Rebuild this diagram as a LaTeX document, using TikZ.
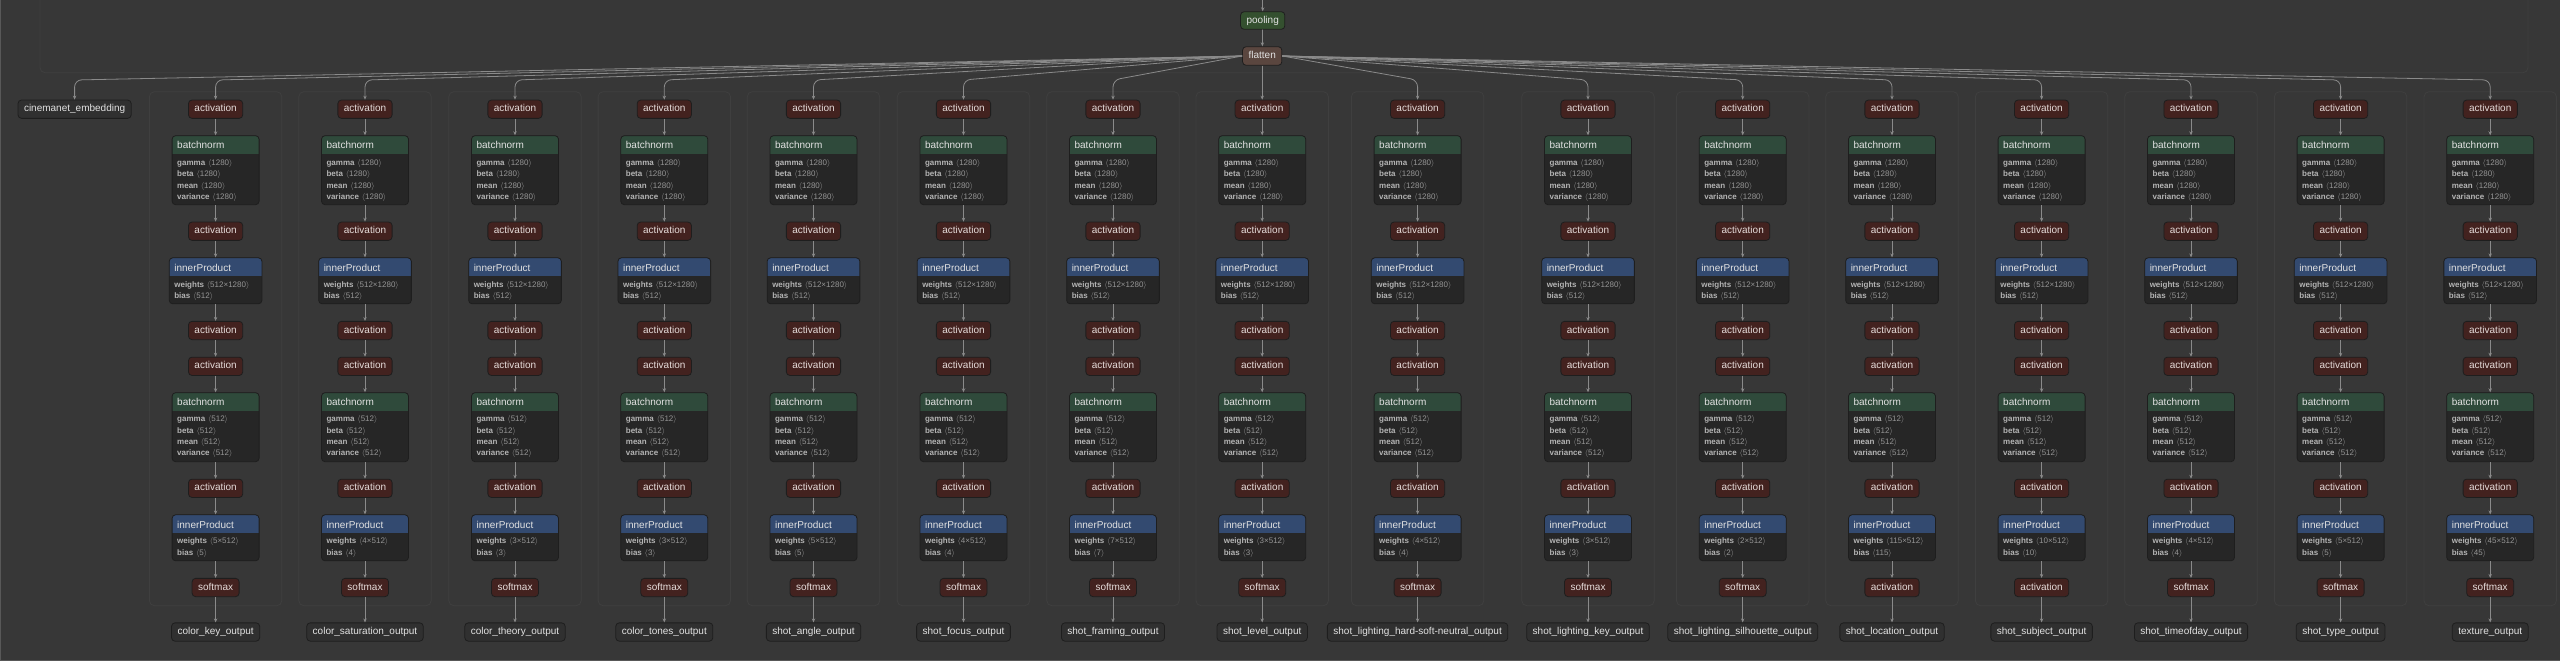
\documentclass[tikz,border=0pt]{standalone}
\usepackage{fontspec}
\setmainfont{Liberation Sans}
\usetikzlibrary{calc,arrows.meta}
\definecolor{bgc}{HTML}{373737}
\definecolor{clusc}{HTML}{3F3F3F}
\definecolor{nodeb}{HTML}{1E1E1E}
\definecolor{actc}{HTML}{43221F}
\definecolor{bnc}{HTML}{2F4A3B}
\definecolor{ipc}{HTML}{334A70}
\definecolor{poolc}{HTML}{34502F}
\definecolor{flatc}{HTML}{5A463F}
\definecolor{bodyc}{HTML}{262626}
\definecolor{ioc}{HTML}{303030}
\definecolor{txtc}{HTML}{E2E2E2}
\definecolor{acttxt}{HTML}{E6DCDA}
\definecolor{attrc}{HTML}{B4B4B4}
\definecolor{valc}{HTML}{959595}
\definecolor{connc}{HTML}{8A8A8A}
\definecolor{framec}{HTML}{585858}
\newcommand\an[1]{\textbf{#1}}
\newcommand\av[1]{\hspace{0.35em}\textcolor{valc}{$\langle$#1$\rangle$}}
\tikzset{
  conn/.style={draw=connc, line width=0.8pt, -{Stealth[length=4pt,width=3.4pt]}},
  nodebase/.style={draw=nodeb, line width=0.8pt, rounded corners=3.5pt, inner sep=0pt,
    font=\fontsize{10}{12}\selectfont},
  small/.style={nodebase, minimum height=18.3pt, inner xsep=6pt, text height=7.3pt, text depth=2.2pt},
  act/.style={small, fill=actc, text=acttxt},
  io/.style={small, fill=ioc, text=txtc},
  poolbox/.style={small, fill=poolc, text=txtc, minimum height=17.6pt},
  flatbox/.style={small, fill=flatc, text=txtc, minimum height=18.6pt},
  bnbox/.style={nodebase, fill=bodyc, minimum width=87pt, minimum height=69pt,
    path picture={\fill[bnc, sharp corners] (path picture bounding box.north west) rectangle ([yshift=-18.5pt]path picture bounding box.north east);}},
  ipbox/.style={nodebase, fill=bodyc, minimum width=#1, minimum height=46pt,
    path picture={\fill[ipc, sharp corners] (path picture bounding box.north west) rectangle ([yshift=-18.5pt]path picture bounding box.north east);}},
  hdr/.style={anchor=base west, inner sep=0pt, text=txtc, font=\fontsize{10}{12}\selectfont},
  attr/.style={anchor=base west, inner sep=0pt, text=attrc, font=\fontsize{8}{10}\selectfont},
  clusbox/.style={draw=clusc, line width=0.8pt, rounded corners=5pt},
}
\newcommand\mkcol[5]{%
  \draw[clusbox] ({#2-66.2},91.7) rectangle ({#2+66.2},605.7);
  \node[act] (#1-a1) at (#2,109.2) {activation};
  \node[bnbox] (#1-bn1) at (#2,170.2) {};
  \node[hdr] (#1-bn1h) at ($(#1-bn1.north west)+(5.3,13.6)$) {batchnorm};
  \node[attr] (#1-bn1g) at ($(#1-bn1.north west)+(5.3,30.2)$) {\an{gamma}\av{1280}};
  \node[attr] (#1-bn1b) at ($(#1-bn1.north west)+(5.3,41.5)$) {\an{beta}\av{1280}};
  \node[attr] (#1-bn1m) at ($(#1-bn1.north west)+(5.3,52.8)$) {\an{mean}\av{1280}};
  \node[attr] (#1-bn1v) at ($(#1-bn1.north west)+(5.3,64.3)$) {\an{variance}\av{1280}};
  \node[act] (#1-a2) at (#2,231.2) {activation};
  \node[ipbox=92.7pt] (#1-ip1) at (#2,280.8) {};
  \node[hdr] (#1-ip1h) at ($(#1-ip1.north west)+(5.3,13.6)$) {innerProduct};
  \node[attr] (#1-ip1w) at ($(#1-ip1.north west)+(5.3,30)$) {\an{weights}\av{512×1280}};
  \node[attr] (#1-ip1b) at ($(#1-ip1.north west)+(5.3,41.3)$) {\an{bias}\av{512}};
  \node[act] (#1-a3) at (#2,330.5) {activation};
  \node[act] (#1-a4) at (#2,366.3) {activation};
  \node[bnbox] (#1-bn2) at (#2,427.2) {};
  \node[hdr] (#1-bn2h) at ($(#1-bn2.north west)+(5.3,13.6)$) {batchnorm};
  \node[attr] (#1-bn2g) at ($(#1-bn2.north west)+(5.3,29.6)$) {\an{gamma}\av{512}};
  \node[attr] (#1-bn2b) at ($(#1-bn2.north west)+(5.3,41.2)$) {\an{beta}\av{512}};
  \node[attr] (#1-bn2m) at ($(#1-bn2.north west)+(5.3,52.5)$) {\an{mean}\av{512}};
  \node[attr] (#1-bn2v) at ($(#1-bn2.north west)+(5.3,63.6)$) {\an{variance}\av{512}};
  \node[act] (#1-a5) at (#2,488.3) {activation};
  \node[ipbox=87pt] (#1-ip2) at (#2,537.8) {};
  \node[hdr] (#1-ip2h) at ($(#1-ip2.north west)+(5.3,13.6)$) {innerProduct};
  \node[attr] (#1-ip2w) at ($(#1-ip2.north west)+(5.3,29.4)$) {\an{weights}\av{#3×512}};
  \node[attr] (#1-ip2b) at ($(#1-ip2.north west)+(5.3,41)$) {\an{bias}\av{#3}};
  \node[act] (#1-last) at (#2,587.5) {#4};
  \node[io] (#1-out) at (#2,632) {#5};
  \draw[conn] (#1-a1) -- (#1-bn1);
  \draw[conn] (#1-bn1) -- (#1-a2);
  \draw[conn] (#1-a2) -- (#1-ip1);
  \draw[conn] (#1-ip1) -- (#1-a3);
  \draw[conn] (#1-a3) -- (#1-a4);
  \draw[conn] (#1-a4) -- (#1-bn2);
  \draw[conn] (#1-bn2) -- (#1-a5);
  \draw[conn] (#1-a5) -- (#1-ip2);
  \draw[conn] (#1-ip2) -- (#1-last);
  \draw[conn] (#1-last) -- (#1-out);
}
\begin{document}
\begin{tikzpicture}[x=1pt,y=-1pt]
\useasboundingbox (0,0) rectangle (2560,661);
\fill[bgc] (0,0) rectangle (2560,661);
\draw[framec, line width=1pt] (0.5,0) -- (0.5,660) -- (2560,660);
\draw[clusbox] (40,-10) rectangle (2528,72.7);
\coordinate (intop) at (1262.7,0);
\node[poolbox] (pooling) at (1262.7,20.5) {pooling};
\node[flatbox] (flatten) at (1262.2,56) {flatten};
\draw[conn] (intop) -- (pooling);
\draw[conn] (pooling) -- (flatten);
\node[io] (cin) at (74.6,109.2) {cinemanet\_embedding};
\mkcol{c1}{215.6}{5}{softmax}{color\_key\_output}
\mkcol{c2}{365}{4}{softmax}{color\_saturation\_output}
\mkcol{c3}{515}{3}{softmax}{color\_theory\_output}
\mkcol{c4}{664.3}{3}{softmax}{color\_tones\_output}
\mkcol{c5}{813.5}{5}{softmax}{shot\_angle\_output}
\mkcol{c6}{963.5}{4}{softmax}{shot\_focus\_output}
\mkcol{c7}{1113}{7}{softmax}{shot\_framing\_output}
\mkcol{c8}{1262.2}{3}{softmax}{shot\_level\_output}
\mkcol{c9}{1417.6}{4}{softmax}{shot\_lighting\_hard-soft-neutral\_output}
\mkcol{c10}{1588}{3}{softmax}{shot\_lighting\_key\_output}
\mkcol{c11}{1742.7}{2}{softmax}{shot\_lighting\_silhouette\_output}
\mkcol{c12}{1892}{115}{activation}{shot\_location\_output}
\mkcol{c13}{2041.6}{10}{activation}{shot\_subject\_output}
\mkcol{c14}{2191}{4}{softmax}{shot\_timeofday\_output}
\mkcol{c15}{2340.6}{5}{softmax}{shot\_type\_output}
\mkcol{c16}{2490.2}{45}{softmax}{texture\_output}
\draw[conn, rounded corners=7pt] (flatten.west) -- (74.6,80) -- (cin.north);
\foreach \i/\x/\s in {c1/215.6/west, c2/365/west, c3/515/west, c4/664.3/west, c5/813.5/west, c6/963.5/west, c7/1113/west, c9/1417.6/east, c10/1588/east, c11/1742.7/east, c12/1892/east, c13/2041.6/east, c14/2191/east, c15/2340.6/east, c16/2490.2/east}
  \draw[conn, rounded corners=7pt] (flatten.\s) -- (\x,80) -- (\i-a1.north);
\draw[conn] (flatten) -- (c8-a1);
\end{tikzpicture}
\end{document}
